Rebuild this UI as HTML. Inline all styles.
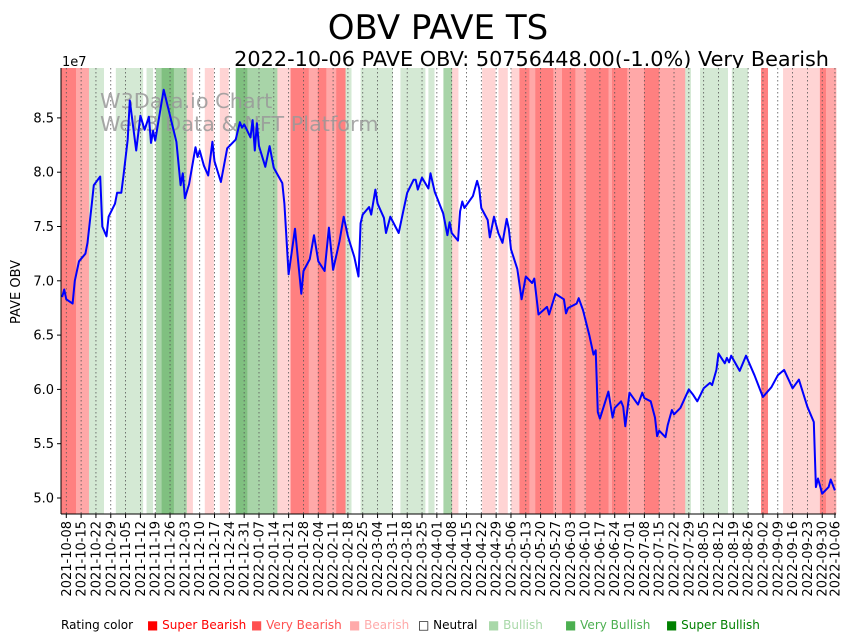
<!DOCTYPE html>
<html><head><meta charset="utf-8">
<style>
body{margin:0;background:#fff;width:855px;height:641px;overflow:hidden;font-family:"DejaVu Sans","Liberation Sans",sans-serif;}
svg{display:block}
</style></head>
<body>
<svg id="chart" width="855" height="641" xmlns="http://www.w3.org/2000/svg" font-family="DejaVu Sans, Liberation Sans, sans-serif">
<text x="438" y="39" font-size="34" text-anchor="middle" fill="#000">OBV PAVE TS</text>
<text x="829" y="66" font-size="20.8" text-anchor="end" fill="#000">2022-10-06 PAVE OBV: 50756448.00(-1.0%) Very Bearish</text>
<g id="bands"></g>
<g id="grid"></g>
<text x="100" y="108" font-size="20.8" fill="#999" fill-opacity="0.85">W3Data.io Chart</text>
<text x="100" y="131" font-size="20.8" fill="#999" fill-opacity="0.85">Web3 Data &amp; NFT Platform</text>
<g id="line"></g>
<g id="axes"></g>
<text x="62" y="66" font-size="13" fill="#000">1e7</text>
<text transform="translate(20,292) rotate(-90)" font-size="13" text-anchor="middle" fill="#000">PAVE OBV</text>
<g id="legend" font-size="12">
<text x="61" y="629" fill="#000">Rating color</text>
<text x="147" y="629" fill="#ff0000">■ Super Bearish</text>
<text x="251" y="629" fill="#ff5050">■ Very Bearish</text>
<text x="349" y="629" fill="#ffaaaa">■ Bearish</text>
<text x="418" y="629" fill="#000">□ Neutral</text>
<text x="488" y="629" fill="#a8d8a8">■ Bullish</text>
<text x="565" y="629" fill="#4caf50">■ Very Bullish</text>
<text x="666" y="629" fill="#008000">■ Super Bullish</text>
</g>
</svg>
<script>
// ---- data (day offsets from 2021-10-08) ----
const obvDays = [-2,-1,0,3,4,6,9,10,12,13,16,17,19,20,23,24,26,27,29,30,33,35,37,39,40,41,42,46,52,54,55,56,58,61,62,63,65,67,69,70,73,76,80,82,83,84,87,88,89,90,91,94,96,98,102,103,105,108,111,112,115,117,119,122,124,126,129,131,133,136,138,139,140,143,144,146,147,150,151,153,157,159,161,164,165,166,168,171,172,174,178,180,181,182,185,186,187,188,192,194,195,196,199,200,202,204,206,208,209,210,213,215,217,220,221,223,227,228,231,235,236,237,241,242,244,247,249,250,251,252,256,258,259,262,263,264,266,270,272,273,276,278,279,280,283,284,286,287,290,294,296,298,301,304,305,307,308,311,312,313,314,318,321,325,329,333,336,339,343,346,350,353,354,355,357,360,361,363];
const obvValues = [6.85,6.92,6.83,6.79,7.0,7.18,7.25,7.35,7.70,7.88,7.96,7.50,7.41,7.59,7.71,7.81,7.81,7.97,8.30,8.66,8.20,8.52,8.39,8.51,8.27,8.38,8.29,8.76,8.28,7.88,7.99,7.76,7.89,8.23,8.14,8.20,8.06,7.97,8.28,8.10,7.91,8.22,8.30,8.46,8.41,8.44,8.32,8.48,8.20,8.45,8.24,8.05,8.24,8.04,7.90,7.71,7.06,7.48,6.88,7.09,7.20,7.42,7.18,7.09,7.49,7.10,7.36,7.59,7.41,7.22,7.04,7.53,7.61,7.68,7.61,7.84,7.71,7.58,7.44,7.59,7.44,7.63,7.81,7.93,7.93,7.84,7.95,7.85,7.99,7.82,7.62,7.42,7.54,7.44,7.37,7.64,7.73,7.67,7.78,7.92,7.85,7.67,7.56,7.40,7.59,7.44,7.35,7.57,7.48,7.29,7.11,6.83,7.04,6.98,7.02,6.69,6.76,6.69,6.88,6.83,6.70,6.75,6.79,6.84,6.73,6.50,6.32,6.36,5.79,5.73,5.98,5.74,5.83,5.89,5.84,5.66,5.97,5.86,5.97,5.92,5.89,5.74,5.57,5.62,5.56,5.67,5.81,5.77,5.83,6.00,5.95,5.89,6.01,6.06,6.04,6.18,6.33,6.24,6.29,6.25,6.31,6.17,6.31,6.13,5.93,6.02,6.13,6.18,6.01,6.09,5.84,5.70,5.10,5.18,5.04,5.10,5.17,5.07];
const bandStart = [-2.5,4.6,10.7,17.8,23.4,36.3,37.9,41,42.3,45,50.8,56.9,59.8,65.4,69.7,72.5,76.7,80,85.5,99.7,105.9,114.5,118.8,122.8,127.5,131.9,134.7,139,154.2,157.8,169.6,171,173.9,178.1,182.2,185.2,196.4,202.7,204.1,208.5,210.1,214,218.7,221.5,230,234.1,240.4,245.4,256.1,257.7,264.9,272.9,280,292.3,295,299.3,312.5,314.3,322,328.1,331.4,338.5,355.9,358.8];
const bandRating = [-3,-2,1,0,1,0,1,0,2,3,2,-1,0,-1,0,-1,0,3,2,-1,-3,-2,-3,-2,-3,1,0,1,0,1,0,1,0,2,-1,0,-1,0,-1,0,-1,-3,-2,-3,-2,-3,-2,-3,-2,-3,-2,-3,-2,1,0,1,0,1,0,-3,0,-1,-3,-2];
const yTicks = [5.0,5.5,6.0,6.5,7.0,7.5,8.0,8.5];
const domainEnd = 363.5;

// ---- scales ----
const X0=61, X1=836, Y0=68, Y1=514;
const xs = d => X0 + (d + 2.5) * (X1 - X0) / (domainEnd + 2.5);
const ys = v => 498 - (v - 5.0) * 108.6;
const NS="http://www.w3.org/2000/svg";
function mk(tag, attrs){const e=document.createElementNS(NS,tag);for(const k in attrs)e.setAttribute(k,attrs[k]);return e;}
const ratingColor = {"-3":"#ff8080","-2":"#ffa8a8","-1":"#ffd4d4","0":"#ffffff","1":"#d4e9d4","2":"#a8d4a8","3":"#80c080"};

const bands=document.getElementById('bands');
bandStart.forEach((s,i)=>{
  const e = i+1<bandStart.length ? bandStart[i+1] : domainEnd;
  const r=mk('rect',{x:xs(s),y:Y0,width:Math.max(0,xs(e)-xs(s))+0.3,height:Y1-Y0,fill:ratingColor[bandRating[i]]});
  
  
  bands.appendChild(r);
});

// weekly ticks
const base = Date.UTC(2021,9,8);
const tickDays=[]; for(let d=0; d<=357; d+=7) tickDays.push(d); tickDays.push(363);
const grid=document.getElementById('grid'), axes=document.getElementById('axes');
tickDays.forEach(d=>{
  const x=xs(d);
  const g=mk('line',{x1:x,x2:x,y1:Y0,y2:Y1,stroke:'#555','stroke-width':0.8,'stroke-dasharray':'1.5,2.5'});
  
  
  grid.appendChild(g);
  const t=mk('line',{x1:x,x2:x,y1:Y1,y2:Y1+4,stroke:'#000','stroke-width':1});
  
  
  axes.appendChild(t);
  const dt=new Date(base+d*86400000);
  const s=dt.toISOString().slice(0,10);
  const lb=mk('text',{transform:`translate(${x+4.5},${Y1+7}) rotate(-90)`,'font-size':13,'text-anchor':'end',fill:'#000'});
  lb.textContent=s;
  
  
  axes.appendChild(lb);
});
yTicks.forEach(v=>{
  const y=ys(v);
  const t=mk('line',{x1:X0-4,x2:X0,y1:y,y2:y,stroke:'#000','stroke-width':1});
  
  
  axes.appendChild(t);
  const lb=mk('text',{x:X0-7,y:y+4.5,'font-size':13,'text-anchor':'end',fill:'#000'});
  lb.textContent=v.toFixed(1);
  
  
  axes.appendChild(lb);
});
const spL=mk('line',{x1:X0,x2:X0,y1:Y0,y2:Y1,stroke:'#000','stroke-width':1});


axes.appendChild(spL);
const spB=mk('line',{x1:X0,x2:X1,y1:Y1,y2:Y1,stroke:'#000','stroke-width':1});


axes.appendChild(spB);

const pts=obvDays.map((d,i)=>xs(d).toFixed(1)+','+ys(obvValues[i]).toFixed(1)).join(' ');
const pl=mk('polyline',{points:pts,fill:'none',stroke:'#0000ff','stroke-width':2,'stroke-linejoin':'round'});


document.getElementById('line').appendChild(pl);
</script>
</body></html>
